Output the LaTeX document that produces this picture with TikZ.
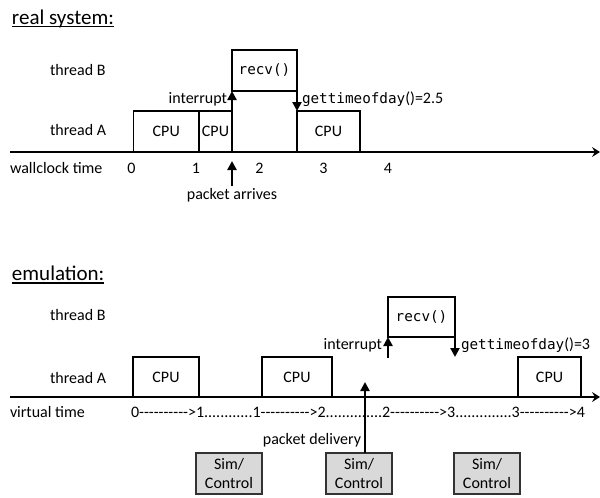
\documentclass[tikz,border=0pt]{standalone}
\usepackage{fontspec}
\setmainfont{Carlito}
\newfontfamily\codefont{DejaVu Sans Mono}
\usetikzlibrary{arrows.meta,calc}

\newcommand{\code}[1]{{\codefont\fontsize{14.3}{17}\selectfont #1}}
% plain hyphens, kept apart so they are not merged into dashes
\newcommand{\hy}{-\kern0pt}
\newcommand{\vtarrow}{\hy\hy\hy\hy\hy\hy\hy\hy\hy\hy>}

\begin{document}
\begin{tikzpicture}[x=1pt,y=-1pt,
  every node/.style={font=\fontsize{16}{19}\selectfont, inner sep=0pt, outer sep=0pt},
  lbl/.style={anchor=base west},
  lblr/.style={anchor=base east},
  tick/.style={anchor=base},
  title/.style={anchor=base west, font=\fontsize{21}{25}\selectfont},
  uline/.style={line width=1.1pt},
  slot/.style={draw, line width=1.2pt, minimum height=41pt},
  simbox/.style={draw=black!80, fill=black!15, line width=1.5pt,
    minimum width=66pt, minimum height=41pt, align=center},
  axis/.style={line width=2.4pt, -{Stealth[length=8pt,width=10pt,inset=3pt]}},
  evt/.style={line width=2.4pt, -{Triangle[length=9pt,width=9pt]}},
]
\useasboundingbox (0,0) rectangle (600,498);

% ---------- real system ----------
\node[title] (t1) at (12,24) {real system:};
\draw[uline] ($(t1.base west)+(0,2.5)$) -- ($(t1.base east)+(0,2.5)$);

\node[lbl] (rb) at (50,75) {thread B};
\node[lbl] (ra) at (50,135) {thread A};

\node[slot, minimum width=65.5pt] (rc1) at (166.25,131.5) {CPU};
\node[slot, minimum width=33pt] (rc2) at (215.5,131.5) {CPU};
\node[slot, minimum width=65pt] (rrecv) at (264.5,70.5) {\code{recv()}};
\node[slot, minimum width=63pt] (rc3) at (328.5,131.5) {CPU};

\coordinate (wa) at (10,152);
\coordinate (wb) at (600,152);
\draw[axis] (wa) -- (wb);

\draw[evt] (rc2.north east) -- (rrecv.south west);
\draw[evt] (rrecv.south east) -- (rc3.north west);
\node[lblr] (rint) at (227,103) {interrupt};
\node[lbl] (rget) at (302,103) {\code{gettimeofday}()=2.5};

\node[lbl] (wl) at (10,173) {wallclock time};
\node[tick] (w0) at (131.5,173) {0};
\node[tick] (w1) at (196,173) {1};
\node[tick] (w2) at (259.5,173) {2};
\node[tick] (w3) at (323.5,173) {3};
\node[tick] (w4) at (388,173) {4};

\coordinate (pa0) at (232,186);
\coordinate (pa1) at (232,161);
\draw[evt] (pa0) -- (pa1);
\node[tick] (pal) at (232,199) {packet arrives};

% ---------- emulation ----------
\node[title] (t2) at (12,280.5) {emulation:};
\draw[uline] ($(t2.base west)+(0,2.5)$) -- ($(t2.base east)+(0,2.5)$);

\node[lbl] (eb) at (50,320) {thread B};
\node[lbl] (ea) at (50,383) {thread A};

\node[slot, minimum width=66pt, minimum height=40pt] (ec1) at (166,377) {CPU};
\node[slot, minimum width=70pt, minimum height=40pt] (ec2) at (297,377) {CPU};
\node[slot, minimum width=63pt, minimum height=40pt] (ec3) at (549.5,377) {CPU};
\node[slot, minimum width=67pt, minimum height=40pt] (erecv) at (421.5,317) {\code{recv()}};

\coordinate (va) at (10,397);
\coordinate (vb) at (600,397);
\draw[axis] (va) -- (vb);

\coordinate (eirq) at (388,358);
\coordinate (eget) at (455,357);
\draw[evt] (eirq) -- (erecv.south west);
\draw[evt] (erecv.south east) -- (eget);
\node[lblr] (eint) at (382,349) {interrupt};
\node[lbl] (egt) at (461,349) {\code{gettimeofday}()=3};

% virtual time scale
\node[lbl] (vl) at (10,417) {virtual time};
\node[lbl] (vt) at (131,417)
  {0\vtarrow1............1\vtarrow2..............2\vtarrow3..............3\vtarrow4};

% simulation / control steps
\node[simbox] (s1) at (229,473.5) {Sim/\\Control};
\node[simbox] (s2) at (359,473.5) {Sim/\\Control};
\node[simbox] (s3) at (487,473.5) {Sim/\\Control};

\coordinate (pd0) at (365,452.5);
\coordinate (pd1) at (365,382);
\draw[evt] (pd0) -- (pd1);
\node[lblr] (pdl) at (361,444) {packet delivery};
\end{tikzpicture}
\end{document}
